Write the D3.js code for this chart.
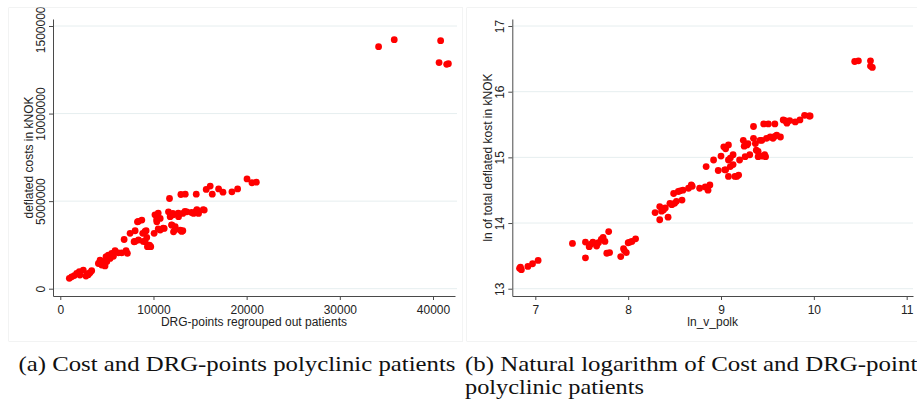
<!DOCTYPE html>
<html>
<head>
<meta charset="utf-8">
<script src="https://cdn.jsdelivr.net/npm/d3@7"></script>
<style>
  body { margin: 0; background: #fff; }
  svg { display: block; }
</style>
</head>
<body>
<div id="chart"></div>
<script>
// Panel (a): DRG-points vs deflated costs (kNOK)
const costVsDrg = [
  [970, 590000], [1220, 680000], [1500, 750000], [1760, 870000], [2040, 970000], [2110, 780000],
  [2470, 1060000], [2760, 720000], [2900, 840000], [3000, 800000], [3190, 910000], [3370, 1030000],
  [4090, 1440000], [4270, 1630000], [4440, 1350000], [4700, 1540000], [4800, 1300000], [4910, 1830000],
  [5000, 1550000], [5160, 1920000], [5340, 1730000], [5520, 2020000], [5700, 1850000], [5880, 2170000],
  [6240, 2050000], [6590, 2050000], [6850, 2810000], [7060, 2170000], [7200, 2020000],
  [7490, 3160000], [7920, 2680000], [8010, 2700000], [8030, 3310000], [8280, 3820000], [8370, 3840000],
  [8390, 2780000], [8750, 3920000], [8850, 3160000], [8900, 2700000], [9090, 3270000], [9100, 2680000],
  [9210, 3310000], [9280, 2930000], [9350, 2400000], [9570, 2490000], [9620, 2410000], [9710, 2400000],
  [10070, 3160000], [10160, 4220000], [10340, 3940000], [10360, 4200000], [10360, 3820000], [10510, 3410000],
  [10510, 4320000], [10720, 4010000], [10720, 3350000], [11050, 3460000], [11150, 3440000],
  [11610, 4390000], [11720, 5150000], [11790, 4110000], [11950, 3650000], [11970, 3630000], [12080, 4300000],
  [12120, 4220000], [12150, 3250000], [12310, 3370000], [12330, 3540000], [12660, 4320000], [12690, 4110000],
  [12870, 3350000], [12940, 5380000], [13030, 3270000], [13150, 3310000], [13150, 4300000], [13380, 4410000],
  [13410, 5400000], [13580, 4390000], [14090, 4350000], [14300, 4300000], [14560, 4410000], [14590, 5400000],
  [14660, 4520000], [14840, 4300000], [15340, 4510000], [15450, 4490000], [15660, 5670000], [16090, 5860000],
  [16310, 5400000], [16990, 5700000], [17460, 5510000], [18420, 5530000], [19030, 5700000], [20040, 6270000],
  [20570, 6050000], [21040, 6080000],
  [34160, 13820000], [35840, 14220000], [40650, 12910000], [40820, 14160000], [41470, 12810000], [41650, 12850000]
];

// Panel (b): ln of DRG-points vs ln of deflated cost
const lnCostVsLnDrg = [
  [6.83, 13.31], [6.84, 13.33], [6.85, 13.29], [6.92, 13.34], [6.97, 13.38], [7.03, 13.43],
  [7.40, 13.69], [7.54, 13.71], [7.54, 13.47], [7.58, 13.64], [7.60, 13.68], [7.62, 13.71],
  [7.66, 13.65], [7.68, 13.70], [7.71, 13.75], [7.73, 13.78], [7.75, 13.72], [7.79, 13.87],
  [7.77, 13.54], [7.80, 13.55], [7.92, 13.49], [7.95, 13.61], [7.96, 13.58], [7.98, 13.55],
  [8.00, 13.70], [8.02, 13.71], [8.04, 13.72], [8.08, 13.76],
  [8.29, 14.16], [8.34, 14.25], [8.34, 14.05], [8.36, 14.18], [8.38, 14.20], [8.40, 14.23],
  [8.43, 14.09], [8.45, 14.30], [8.47, 14.28], [8.49, 14.45], [8.50, 14.30], [8.52, 14.33],
  [8.54, 14.48], [8.56, 14.49], [8.58, 14.35], [8.59, 14.50], [8.65, 14.53], [8.68, 14.58],
  [8.69, 14.56], [8.77, 14.53], [8.83, 14.55], [8.86, 14.50], [8.88, 14.58],
  [8.84, 14.86], [8.92, 14.96], [8.97, 14.80], [9.00, 15.02], [9.03, 15.16], [9.04, 14.81],
  [9.05, 14.81], [9.05, 15.13], [9.08, 15.19], [9.08, 14.96], [9.08, 14.71], [9.10, 14.86],
  [9.10, 14.99], [9.13, 15.04], [9.13, 14.89], [9.15, 14.71], [9.17, 14.71], [9.19, 14.73],
  [9.20, 14.96], [9.24, 15.26], [9.25, 15.17], [9.26, 15.01], [9.28, 15.19], [9.29, 15.21],
  [9.31, 15.04], [9.35, 15.47], [9.35, 15.29], [9.37, 15.21], [9.38, 15.11], [9.40, 15.01],
  [9.40, 15.09], [9.42, 15.26], [9.44, 15.26], [9.44, 15.02], [9.46, 15.51], [9.47, 15.04],
  [9.48, 15.01], [9.49, 15.29], [9.51, 15.51], [9.53, 15.31], [9.56, 15.29], [9.58, 15.51],
  [9.58, 15.32], [9.60, 15.34], [9.64, 15.31], [9.67, 15.57], [9.69, 15.56], [9.71, 15.52],
  [9.74, 15.56], [9.80, 15.54], [9.85, 15.57], [9.90, 15.64], [9.95, 15.63], [9.96, 15.63],
  [10.44, 16.46], [10.48, 16.47], [10.61, 16.47], [10.61, 16.39], [10.63, 16.37]
];

// Ticks and labels
const xTicksA = [0, 10000, 20000, 30000, 40000];
const yTicksA = [0, 5000000, 10000000, 15000000];
const xTicksB = [7, 8, 9, 10, 11];
const yTicksB = [13, 14, 15, 16, 17];
const titlesA = { x: "DRG-points regrouped out patients", y: "deflated costs in kNOK" };
const titlesB = { x: "ln_v_polk", y: "ln of total deflated kost in kNOK" };
const captions = [
  { lines: ["(a) Cost and DRG-points polyclinic patients"] },
  { lines: ["(b) Natural logarithm of Cost and DRG-points", "polyclinic patients"] }
];

const width = 917, height = 402;
const axisColor = "#4a4a4a", gridColor = "#e6eeef", frameColor = "#e6e8e8";
const sansFont = "'Liberation Sans', Arial, sans-serif";

const svg = d3.select("#chart")
  .append("svg")
  .attr("width", width)
  .attr("height", height);

const panels = [
  {
    id: "a", frame: [8.5, 7.5, 463, 341.5],
    plot: { left: 53, right: 455, top: 19, bottom: 296 }, gridEnd: 457,
    xDomain: [-783, 42361], yDomain: [-416800, 15400000],
    points: costVsDrg, xTicks: xTicksA, yTicks: yTicksA, titles: titlesA,
    yTitleX: 33, yLabelGap: 8
  },
  {
    id: "b", frame: [466.5, 7.5, 940, 341.5],
    plot: { left: 512.3, right: 913, top: 19, bottom: 296 }, gridEnd: 913,
    xDomain: [6.752, 11.068], yDomain: [12.889, 17.107],
    points: lnCostVsLnDrg, xTicks: xTicksB, yTicks: yTicksB, titles: titlesB,
    yTitleX: 491.5, yLabelGap: 8
  }
];

panels.forEach(p => {
  const [fx0, fy0, fx1, fy1] = p.frame;

  svg.append("clipPath").attr("id", "clip-" + p.id)
    .append("rect")
    .attr("x", fx0).attr("y", fy0)
    .attr("width", fx1 - fx0).attr("height", fy1 - fy0);

  const g = svg.append("g").attr("clip-path", `url(#clip-${p.id})`);

  // panel frame
  g.append("rect")
    .attr("x", fx0).attr("y", fy0)
    .attr("width", fx1 - fx0).attr("height", fy1 - fy0)
    .attr("fill", "#fff")
    .attr("stroke", frameColor);

  const x = d3.scaleLinear().domain(p.xDomain).range([p.plot.left, p.plot.right]);
  const y = d3.scaleLinear().domain(p.yDomain).range([p.plot.bottom, p.plot.top]);

  // gridlines
  g.append("g").selectAll("line")
    .data(p.yTicks)
    .join("line")
    .attr("x1", p.plot.left).attr("x2", p.gridEnd)
    .attr("y1", d => y(d)).attr("y2", d => y(d))
    .attr("stroke", gridColor)
    .attr("stroke-width", 1);

  // points
  g.append("g").selectAll("circle")
    .data(p.points)
    .join("circle")
    .attr("cx", d => x(d[0]))
    .attr("cy", d => y(d[1]))
    .attr("r", 3.4)
    .attr("fill", "#ff0000");

  // x axis
  const gx = g.append("g")
    .attr("transform", `translate(0,${p.plot.bottom})`)
    .call(d3.axisBottom(x).tickValues(p.xTicks).tickSize(4).tickSizeOuter(0).tickPadding(5)
      .tickFormat(d3.format("d")));

  // y axis
  const gy = g.append("g")
    .attr("transform", `translate(${p.plot.left},0)`)
    .call(d3.axisLeft(y).tickValues(p.yTicks).tickSize(4).tickSizeOuter(0)
      .tickFormat(d3.format("d")));

  gy.selectAll(".tick text")
    .attr("transform", "rotate(-90)")
    .attr("x", 0)
    .attr("y", -p.yLabelGap)
    .attr("dy", 0)
    .attr("text-anchor", "middle");

  [gx, gy].forEach(ax => {
    ax.select(".domain").attr("stroke", axisColor);
    ax.selectAll(".tick line").attr("stroke", axisColor);
    ax.selectAll(".tick text")
      .attr("fill", "#222")
      .style("font-family", sansFont)
      .style("font-size", "12px");
  });

  // axis titles
  g.append("text")
    .attr("x", (p.plot.left + p.plot.right) / 2)
    .attr("y", 325.5)
    .attr("text-anchor", "middle")
    .attr("fill", "#222")
    .style("font-family", sansFont)
    .style("font-size", "12px")
    .text(p.titles.x);

  g.append("text")
    .attr("transform", `translate(${p.yTitleX},${(p.plot.top + p.plot.bottom) / 2}) rotate(-90)`)
    .attr("text-anchor", "middle")
    .attr("fill", "#222")
    .style("font-family", sansFont)
    .style("font-size", "12px")
    .text(p.titles.y);
});

// captions under the panels
const captionLayout = [
  { x: 18.5, widths: [437] },
  { x: 465, widths: [462, 179] }
];
captions.forEach((c, i) => {
  c.lines.forEach((line, j) => {
    svg.append("text")
      .attr("x", captionLayout[i].x)
      .attr("y", 370.7 + j * 23.5)
      .attr("textLength", captionLayout[i].widths[j])
      .attr("lengthAdjust", "spacingAndGlyphs")
      .attr("fill", "#111")
      .style("font-family", "'Liberation Serif', 'DejaVu Serif', serif")
      .style("font-size", "21px")
      .text(line);
  });
});
</script>
</body>
</html>
